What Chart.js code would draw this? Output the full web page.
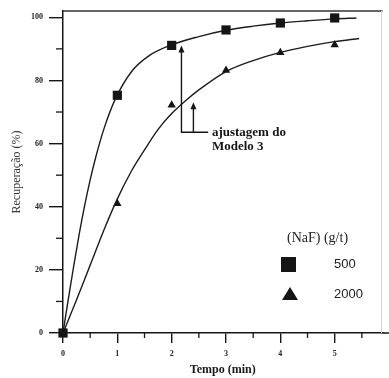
<!DOCTYPE html>
<html><head><meta charset="utf-8">
<script src="https://cdn.jsdelivr.net/npm/chart.js@4/dist/chart.umd.min.js"></script>
<style>html,body{margin:0;padding:0;background:#fff}#wrap{width:389px;height:378px;position:relative}</style>
</head><body><div id="wrap"><canvas id="c" width="389" height="378"></canvas></div>
<script>
// Measured points
const times = [0, 1, 2, 3, 4, 5];
const rec500 = [0, 75.3, 91.1, 96.0, 98.2, 99.8];
const rec2000 = [0, 41, 72.2, 83.2, 88.8, 91.3];
// Fitted curves ("ajustagem do Modelo 3")
const fitTime500 = [0, 0.1, 0.2, 0.3, 0.4, 0.5, 0.6, 0.75, 0.96, 1.27, 1.58, 2.0, 2.5, 3.0, 3.5, 4.0, 4.5, 5.0, 5.4];
const fit500 = [0, 11, 21.5, 31.5, 40.5, 48.5, 55.5, 64.5, 74, 83, 87.8, 91.3, 93.9, 95.9, 97.2, 98.2, 98.9, 99.5, 99.8];
const fitTime2000 = [0, 0.25, 0.5, 0.75, 1.0, 1.25, 1.5, 1.75, 2.0, 2.25, 2.5, 3.0, 3.5, 4.0, 4.5, 5.0, 5.45];
const fit2000 = [0, 10.5, 21.5, 32.5, 42.5, 51, 58, 64.5, 69.5, 73.5, 77, 82.8, 86.3, 88.9, 90.8, 92.3, 93.3];
// Labels
const seriesLabels = ['500', '2000'];
const legendTitle = '(NaF) (g/t)';
const annotLines = ['ajustagem do', 'Modelo 3'];
const xTitle = 'Tempo (min)';
const yTitle = 'Recuperação (%)';
const xMinorTicks = [0.5, 1.5, 2.5, 3.5, 4.5, 5.5];
const yMinorTicks = [10, 30, 50, 70, 90];

const pts = (xs, ys) => xs.map((x, i) => ({x: x, y: ys[i]}));
const INK = '#151515';

const extras = {
  id: 'extras',
  afterDraw(chart) {
    const ctx = chart.ctx;
    const xs = chart.scales.x, ys = chart.scales.y;
    const {left, right, top, bottom} = chart.chartArea;
    ctx.save();
    // box top and right
    ctx.strokeStyle = '#333'; ctx.lineWidth = 1.5;
    ctx.beginPath(); ctx.moveTo(left, top); ctx.lineTo(right, top); ctx.stroke();
    ctx.strokeStyle = '#d4d4d4'; ctx.lineWidth = 1;
    ctx.beginPath(); ctx.moveTo(right - 1, top); ctx.lineTo(right - 1, bottom); ctx.stroke();
    // x axis extension
    ctx.strokeStyle = INK; ctx.lineWidth = 1.5;
    ctx.beginPath(); ctx.moveTo(right, bottom); ctx.lineTo(chart.width, bottom); ctx.stroke();
    // minor ticks
    ctx.lineWidth = 1.3;
    xMinorTicks.forEach(v => {
      const p = xs.getPixelForValue(v);
      ctx.beginPath(); ctx.moveTo(p, bottom); ctx.lineTo(p, bottom + 5); ctx.stroke();
    });
    yMinorTicks.forEach(v => {
      const p = ys.getPixelForValue(v);
      ctx.beginPath(); ctx.moveTo(left - 7, p); ctx.lineTo(left, p); ctx.stroke();
    });
    // annotation arrows (data coordinates)
    const a1x = xs.getPixelForValue(2.18), a2x = xs.getPixelForValue(2.40);
    const baseY = ys.getPixelForValue(63.6);
    const tip1 = ys.getPixelForValue(91.1), tip2 = ys.getPixelForValue(73.1);
    const endX = xs.getPixelForValue(2.67);
    ctx.strokeStyle = INK; ctx.fillStyle = INK; ctx.lineWidth = 1.4;
    ctx.beginPath();
    ctx.moveTo(a1x, tip1 + 5); ctx.lineTo(a1x, baseY); ctx.lineTo(endX, baseY);
    ctx.moveTo(a2x, tip2 + 5); ctx.lineTo(a2x, baseY);
    ctx.stroke();
    [[a1x, tip1], [a2x, tip2]].forEach(([x, y]) => {
      ctx.beginPath(); ctx.moveTo(x, y); ctx.lineTo(x - 3, y + 7); ctx.lineTo(x + 3, y + 7); ctx.closePath(); ctx.fill();
    });
    ctx.font = 'bold 13px "Liberation Serif"';
    ctx.textAlign = 'left'; ctx.textBaseline = 'middle';
    const lx = xs.getPixelForValue(2.74);
    ctx.fillText(annotLines[0], lx, baseY);
    ctx.fillText(annotLines[1], lx, ys.getPixelForValue(58.9));
    // legend
    ctx.fillStyle = '#222';
    ctx.font = '14px "Liberation Serif"';
    ctx.fillText(legendTitle, 287, 238);
    ctx.fillStyle = INK;
    ctx.fillRect(281, 257, 15, 15);
    ctx.beginPath(); ctx.moveTo(282, 300); ctx.lineTo(298, 300); ctx.lineTo(290, 287); ctx.closePath(); ctx.fill();
    ctx.font = '13px "Liberation Sans"';
    ctx.fillStyle = '#222';
    ctx.fillText(seriesLabels[0], 334, 264);
    ctx.fillText(seriesLabels[1], 334, 294);
    ctx.restore();
  }
};

new Chart(document.getElementById('c'), {
  data: {
    datasets: [
      {type: 'scatter', label: seriesLabels[0], data: pts(times, rec500), pointStyle: 'rect', pointRadius: 6.5, backgroundColor: INK, borderWidth: 0, clip: false},
      {type: 'scatter', label: seriesLabels[1], data: pts(times, rec2000), pointStyle: 'triangle', pointRadius: 4.8, backgroundColor: INK, borderWidth: 0, clip: false},
      {type: 'line', label: 'fit 500', data: pts(fitTime500, fit500), borderColor: '#1c1c1c', borderWidth: 1.4, pointRadius: 0, cubicInterpolationMode: 'monotone', fill: false},
      {type: 'line', label: 'fit 2000', data: pts(fitTime2000, fit2000), borderColor: '#1c1c1c', borderWidth: 1.4, pointRadius: 0, cubicInterpolationMode: 'monotone', fill: false}
    ]
  },
  options: {
    responsive: false,
    animation: false,
    devicePixelRatio: 1,
    layout: {padding: {top: 11, right: 4, left: 0, bottom: 0}},
    plugins: {legend: {display: false}, tooltip: {enabled: false}},
    scales: {
      x: {
        type: 'linear', min: 0, max: 5.88,
        afterFit: s => { s.height = 45; },
        border: {color: INK, width: 1.5},
        grid: {drawOnChartArea: false, tickLength: 10, color: INK, lineWidth: 1.4},
        ticks: {stepSize: 1, includeBounds: false, padding: 6, color: '#222', font: {family: 'Liberation Serif', size: 8, weight: 'bold'}},
        title: {display: true, text: xTitle, color: '#1a1a1a', font: {family: 'Liberation Serif', size: 12, weight: 'bold'}, padding: {top: 0, bottom: 1}}
      },
      y: {
        type: 'linear', min: 0, max: 102,
        afterFit: s => { s.width = 63; },
        border: {color: INK, width: 1.5},
        grid: {drawOnChartArea: false, tickLength: 14, color: INK, lineWidth: 1.4},
        ticks: {stepSize: 20, includeBounds: false, padding: 6, color: '#222', font: {family: 'Liberation Serif', size: 8, weight: 'bold'}},
        title: {display: true, text: yTitle, color: '#333', font: {family: 'Liberation Serif', size: 12}, padding: {top: 10, bottom: 0}}
      }
    }
  },
  plugins: [extras]
});
</script>
</body></html>
